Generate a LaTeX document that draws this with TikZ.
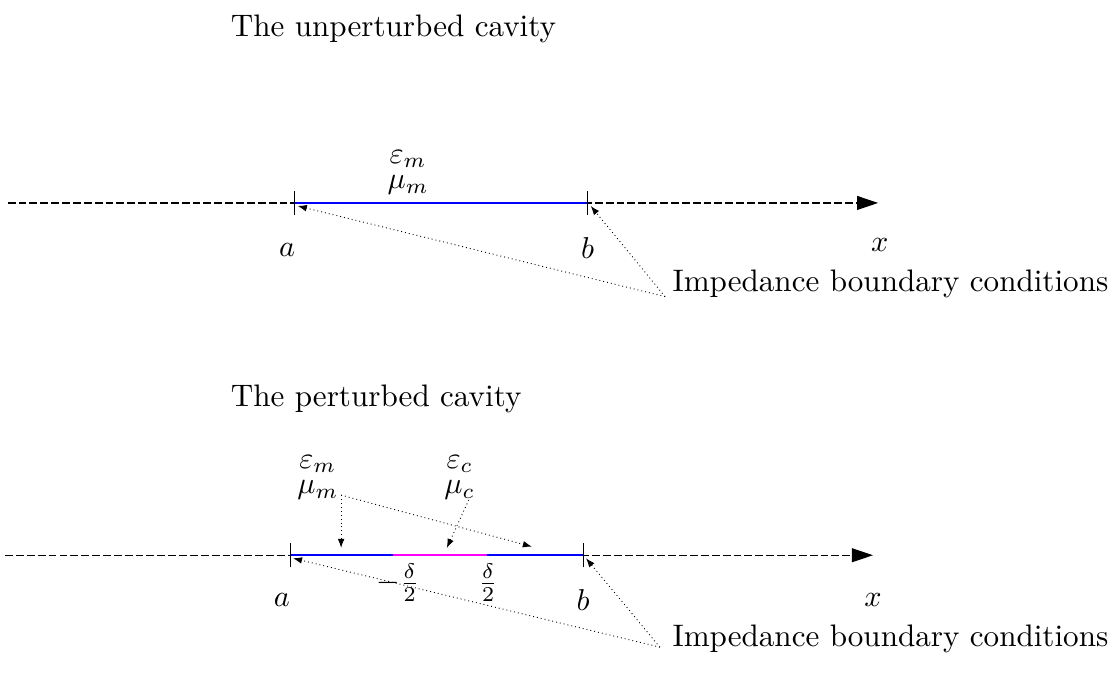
\documentclass[tikz,border=0pt]{standalone}
\usepackage{amsmath}
\usepackage{xcolor}
\usepackage{tikz}
\usetikzlibrary{arrows.meta,positioning}
\definecolor{cavblue}{RGB}{0,0,255}
\definecolor{cavmag}{RGB}{255,0,255}

\begin{document}
\begin{tikzpicture}[
      axis/.style={dash pattern=on 2.6pt off 1pt,line width=0.45pt,-{Triangle[length=7pt,width=4.6pt]}},
      cavity/.style={line width=0.8pt},
      tick/.style={line width=0.3pt},
      pointer/.style={densely dotted,line width=0.3pt,-{Latex[length=3pt,width=2.2pt]}},
      lbl/.style={inner sep=0pt,font=\fontsize{10.3pt}{12.4pt}\selectfont},
      >=Latex
]
\useasboundingbox (0,0) rectangle (13,7.832);
% unperturbed
\node[lbl,anchor=west] (title1) at (2.68,7.50) {The unperturbed cavity};
\coordinate (a1) at (3.43,5.47);
\coordinate (b1) at (6.84,5.47);
\coordinate (start1) at (0.09,5.47);
\coordinate (end1) at (10.22,5.47);
\draw[axis] (start1) -- (end1);
\draw[cavity,cavblue] (a1) -- (b1);
\draw[tick] ([yshift=-0.14cm]a1) -- ([yshift=0.14cm]a1);
\draw[tick] ([yshift=-0.14cm]b1) -- ([yshift=0.14cm]b1);
\node[lbl] (eps1) at (4.75,5.98) {$\varepsilon_m$};
\node[lbl] (mu1) at (4.75,5.68) {$\mu_m$};
\node[lbl] (la1) at (3.34,4.92) {$a$};
\node[lbl] (lb1) at (6.84,4.94) {$b$};
\node[lbl] (lx1) at (10.24,4.98) {$x$};
\node[lbl,anchor=west] (imp1) at (7.82,4.53) {Impedance boundary conditions};
\coordinate (src1) at (7.74,4.38);
\draw[pointer] (src1) -- ([xshift=1pt,yshift=-1pt]a1);
\draw[pointer] (src1) -- ([xshift=1pt,yshift=-1pt]b1);
% perturbed
\node[lbl,anchor=west] (title2) at (2.68,3.19) {The perturbed cavity};
\coordinate (a2) at (3.375,1.37);
\coordinate (b2) at (6.785,1.37);
\coordinate (c2) at (4.574,1.37);
\coordinate (d2) at (5.668,1.37);
\coordinate (start2) at (0.06,1.37);
\coordinate (end2) at (10.16,1.37);
\draw[axis] (start2) -- (end2);
\draw[cavity,cavblue] (a2) -- (c2);
\draw[cavity,cavmag] (c2) -- (d2);
\draw[cavity,cavblue] (d2) -- (b2);
\draw[tick] ([yshift=-0.14cm]a2) -- ([yshift=0.14cm]a2);
\draw[tick] ([yshift=-0.14cm]b2) -- ([yshift=0.14cm]b2);
\node[lbl] (eps2) at (3.70,2.43) {$\varepsilon_m$};
\node[lbl] (mu2) at (3.70,2.13) {$\mu_m$};
\node[lbl] (eps3) at (5.35,2.43) {$\varepsilon_c$};
\node[lbl] (mu3) at (5.35,2.13) {$\mu_c$};
\coordinate (corner) at (3.97,2.07);
\coordinate (left2) at (3.97,1.455);
\coordinate (right2) at (6.19,1.47);
\coordinate (mid2) at (5.20,1.455);
\draw[pointer] (corner) -- (left2);
\draw[pointer] (corner) -- (right2);
\draw[pointer] ([xshift=3pt]mu3.south) -- (mid2);
\node[lbl] (ld1) at (4.63,1.05) {$-\frac{\delta}{2}$};
\node[lbl] (ld2) at (5.68,1.05) {$\frac{\delta}{2}$};
\node[lbl] (la2) at (3.28,0.85) {$a$};
\node[lbl] (lb2) at (6.785,0.85) {$b$};
\node[lbl] (lx2) at (10.16,0.85) {$x$};
\node[lbl,anchor=west] (imp2) at (7.82,0.40) {Impedance boundary conditions};
\coordinate (src2) at (7.68,0.30);
\draw[pointer] (src2) -- ([xshift=1pt,yshift=-1pt]a2);
\draw[pointer] (src2) -- ([xshift=1pt,yshift=-1pt]b2);
\end{tikzpicture}
\end{document}
